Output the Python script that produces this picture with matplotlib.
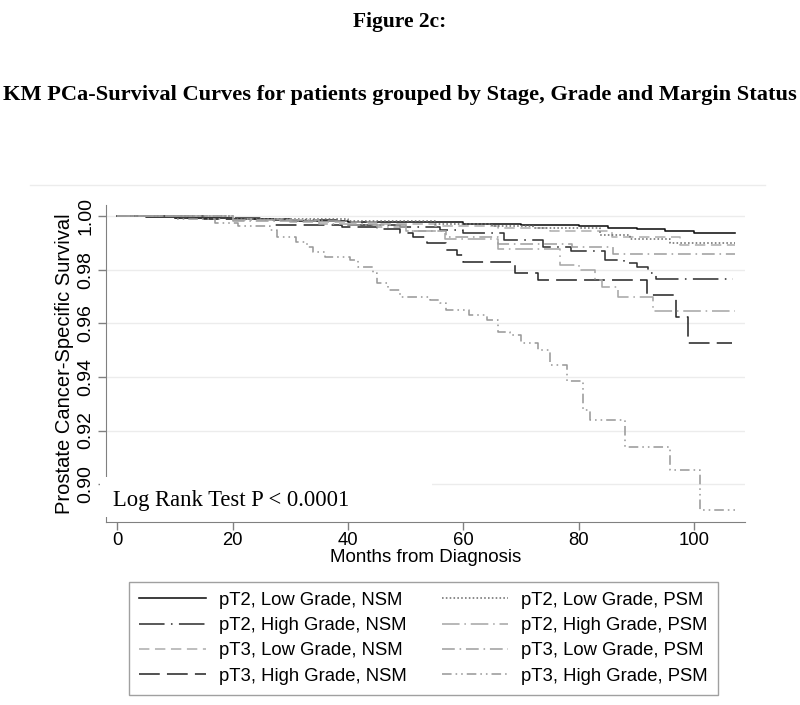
import matplotlib
matplotlib.use('Agg')
import matplotlib.pyplot as plt
from matplotlib.lines import Line2D
from matplotlib.patches import Rectangle

# KM step data (months, survival)
t_pt2_low_nsm = [0, 5, 10, 20, 30, 40, 50, 60, 70, 80, 85, 90, 95, 100, 107]
s_pt2_low_nsm = [1.0, .9996, .9992, .9987, .9983, .9979, .9976, .9972, .9966, .9961, .9957, .9950, .9945, .9935, .9935]

t_pt2_high_nsm = [0, 10, 25, 38, 49, 56, 60, 67, 73.8, 78.7, 84.6, 87.8, 90, 92, 93.3, 106.7]
s_pt2_high_nsm = [1.0, .9993, .9984, .9968, .9960, .9948, .9935, .9910, .9886, .9870, .9836, .9824, .9810, .9787, .9765, .9765]

t_pt3_low_nsm = [0, 15, 30, 45, 55, 66, 75, 85.7, 97.5, 107]
s_pt3_low_nsm = [1.0, .9988, .9978, .9970, .9962, .9954, .9945, .9923, .9890, .9890]

t_pt3_high_nsm = [0, 15, 27, 39, 45, 49, 51.3, 53.6, 57, 58.8, 60, 69, 73, 91.9, 96.8, 98.9, 106.5]
s_pt3_high_nsm = [1.0, .9990, .9968, .9958, .9950, .9935, .9923, .9898, .9873, .9855, .9830, .9787, .9762, .9706, .9623, .9526, .9526]

t_pt2_low_psm = [0, 20, 40, 55, 65, 72, 83.7, 88.8, 95.8, 107]
s_pt2_low_psm = [1.0, .9988, .9980, .9972, .9963, .9954, .9929, .9913, .9898, .9898]

t_pt2_high_psm = [0, 20, 35, 45, 50, 56.8, 66, 76.7, 80, 82.8, 84, 86.8, 92.9, 107]
s_pt2_high_psm = [1.0, .9985, .9970, .9960, .9945, .9915, .9877, .9817, .9799, .9760, .9734, .9697, .9644, .9644]

t_pt3_low_psm = [0, 20, 40, 50, 57, 66, 78.8, 86, 107]
s_pt3_low_psm = [1.0, .9982, .9965, .9945, .9920, .9895, .9886, .9858, .9858]

t_pt3_high_psm = [0, 10, 17, 21, 26.5, 27.6, 31, 32.8, 34, 36, 40.3, 41.7, 44.3, 45, 47, 49,
                  54.2, 56, 57, 61, 64, 66, 68, 70, 73, 75, 77.9, 80.8, 82, 88, 95.8, 101, 107]
s_pt3_high_psm = [1.0, .9990, .9975, .9964, .9948, .9920, .9904, .9886, .9867, .9848, .9836, .9811, .9787, .9750, .9724, .9697,
                  .9687, .9675, .9650, .9631, .9613, .9569, .9557, .9526, .9500, .9445, .9383, .9277, .9240, .9140, .9054, .8905, .8905]

labels = ['pT2, Low Grade, NSM', 'pT2, High Grade, NSM', 'pT3, Low Grade, NSM', 'pT3, High Grade, NSM',
          'pT2, Low Grade, PSM', 'pT2, High Grade, PSM', 'pT3, Low Grade, PSM', 'pT3, High Grade, PSM']
yticks = [0.90, 0.92, 0.94, 0.96, 0.98, 1.00]
xticks = [0, 20, 40, 60, 80, 100]

series = [(t_pt2_low_nsm, s_pt2_low_nsm), (t_pt2_high_nsm, s_pt2_high_nsm),
          (t_pt3_low_nsm, s_pt3_low_nsm), (t_pt3_high_nsm, s_pt3_high_nsm),
          (t_pt2_low_psm, s_pt2_low_psm), (t_pt2_high_psm, s_pt2_high_psm),
          (t_pt3_low_psm, s_pt3_low_psm), (t_pt3_high_psm, s_pt3_high_psm)]

# colour, dash pattern
styles = [('#111111', None),
          ('#333333', (16, 4, 1, 4)),
          ('#b0b0b0', (6.5, 3.5)),
          ('#2a2a2a', (13, 4.5)),
          ('#707070', (1, 1.4)),
          ('#a8a8a8', (11, 3, 1, 3)),
          ('#a0a0a0', (8, 3, 1, 3)),
          ('#9a9a9a', (6, 2.5, 1, 2.5, 1, 2.5))]

W, H = 800, 705
fig = plt.figure(figsize=(8, 7.05), dpi=100)
ax = fig.add_axes([106 / W, 1 - 521.7 / H, (745 - 106) / W, (521.7 - 205) / H])

handles = []
for (t, s), lab, (col, dash) in zip(series, labels, styles):
    ln, = ax.step(t, s, where='post', color=col, lw=1.15, label=lab)
    if dash is not None:
        ln.set_dashes(dash)
    handles.append(ln)

ax.set_xlim(-1.96, 108.8)
ax.set_ylim(0.886, 1.0041)
ax.set_yticks(yticks)
ax.set_yticklabels(['%.2f' % v for v in yticks], rotation=90, va='center',
                   fontsize=14, family='Liberation Sans')
ax.set_xticks(xticks)
ax.set_xticklabels([str(v) for v in xticks], fontsize=13.3, family='Liberation Sans')
ax.grid(axis='y', color='#ececec', lw=1)
ax.set_axisbelow(True)
for side in ['top', 'right']:
    ax.spines[side].set_visible(False)
for side in ['left', 'bottom']:
    ax.spines[side].set_color('#808080')
ax.tick_params(axis='both', colors='#808080', labelcolor='black', length=5.5, width=1, pad=3)
ax.tick_params(axis='x', pad=2)
ax.set_xlabel('Months from Diagnosis', fontsize=13.5, family='Liberation Sans', labelpad=0)
ax.set_ylabel('Prostate Cancer-Specific Survival', fontsize=14.5, family='Liberation Sans', labelpad=2)

# white box behind the log rank note (covers axis line and grid)
fig.patches.append(Rectangle((100 / W, 1 - 517 / H), (431.7 - 100) / W, 40 / H,
                             transform=fig.transFigure, facecolor='white', edgecolor='none', zorder=1))
fig.text(112.7 / W, 1 - 506 / H, 'Log Rank Test P < 0.0001', family='Liberation Serif',
         fontsize=16.3, ha='left', va='baseline', zorder=2)

# faint graph region edge
fig.lines.append(Line2D([30 / W, 765 / W], [1 - 185 / H, 1 - 185 / H], transform=fig.transFigure,
                        color='#ececec', lw=1))

fig.text(0.5, 1 - 22 / H, 'Figure 2c:', family='Liberation Serif', weight='bold',
         fontsize=15.5, ha='center', va='center')
fig.text(0.5, 1 - 95 / H, 'KM PCa-Survival Curves for patients grouped by Stage, Grade and Margin Status',
         family='Liberation Serif', weight='bold', fontsize=16.1, ha='center', va='center')

leg = fig.legend(handles, labels, ncol=2, loc='upper left',
                 bbox_to_anchor=(129.3 / W, 1 - 581.7 / H), borderaxespad=0,
                 prop={'family': 'Liberation Sans', 'size': 13.3},
                 handlelength=3.6, handletextpad=0.7, columnspacing=1.9,
                 labelspacing=0.45, borderpad=0.55, fancybox=False, frameon=True)
leg.get_frame().set_edgecolor('#888888')
leg.get_frame().set_linewidth(1)

fig.savefig('out.png', dpi=100, facecolor='white')
